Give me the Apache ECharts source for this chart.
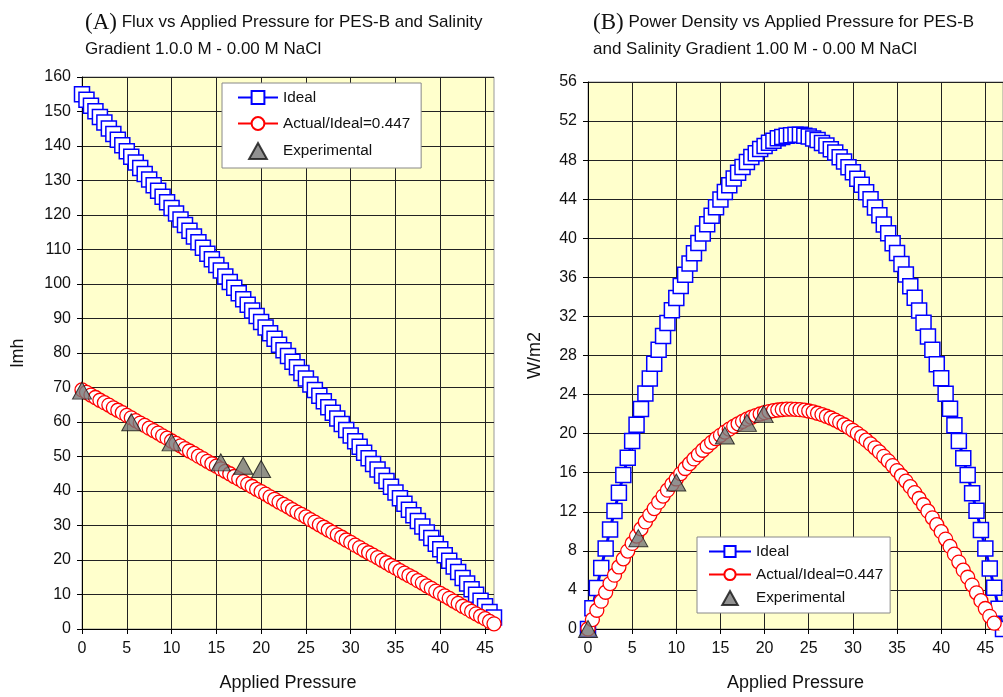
<!DOCTYPE html>
<html>
<head>
<meta charset="utf-8">
<script src="https://cdn.jsdelivr.net/npm/echarts@6/dist/echarts.min.js"></script>
<style>
html, body { margin: 0; padding: 0; background: #fff; }
#chart { width: 1003px; height: 697px; }
</style>
</head>
<body>
<div id="chart"></div>
<script>
// applied pressure (bar), 0.5 steps
var pressure = [0,0.5,1,1.5,2,2.5,3,3.5,4,4.5,5,5.5,6,6.5,7,7.5,8,8.5,9,9.5,
	10,10.5,11,11.5,12,12.5,13,13.5,14,14.5,15,15.5,16,16.5,17,17.5,18,18.5,19,19.5,
	20,20.5,21,21.5,22,22.5,23,23.5,24,24.5,25,25.5,26,26.5,27,27.5,28,28.5,29,29.5,
	30,30.5,31,31.5,32,32.5,33,33.5,34,34.5,35,35.5,36,36.5,37,37.5,38,38.5,39,39.5,
	40,40.5,41,41.5,42,42.5,43,43.5,44,44.5,45,45.5,46,46.5,47];

var idealFlux = [155.0,153.4,151.7,150.1,148.4,146.8,145.1,143.5,141.8,140.2,
	138.5,136.9,135.2,133.6,131.9,130.3,128.6,127.0,125.3,123.7,
	122.0,120.4,118.7,117.1,115.4,113.8,112.1,110.5,108.8,107.2,
	105.5,103.9,102.2,100.6,98.9,97.3,95.6,94.0,92.3,90.7,
	89.0,87.4,85.7,84.1,82.4,80.8,79.1,77.5,75.9,74.2,
	72.6,70.9,69.3,67.6,66.0,64.3,62.7,61.0,59.4,57.7,
	56.1,54.4,52.8,51.1,49.5,47.8,46.2,44.5,42.9,41.2,
	39.6,37.9,36.3,34.6,33.0,31.3,29.7,28.0,26.4,24.7,
	23.1,21.4,19.8,18.1,16.5,14.8,13.2,11.5,9.9,8.2,
	6.6,4.9,3.3,1.6,0.0];

var actualFlux = [69.3,68.6,67.8,67.1,66.3,65.6,64.9,64.1,63.4,62.7,
	61.9,61.2,60.4,59.7,59.0,58.2,57.5,56.8,56.0,55.3,
	54.5,53.8,53.1,52.3,51.6,50.9,50.1,49.4,48.6,47.9,
	47.2,46.4,45.7,45.0,44.2,43.5,42.7,42.0,41.3,40.5,
	39.8,39.1,38.3,37.6,36.8,36.1,35.4,34.6,33.9,33.2,
	32.5,31.7,31.0,30.2,29.5,28.7,28.0,27.3,26.6,25.8,
	25.1,24.3,23.6,22.8,22.1,21.4,20.7,19.9,19.2,18.4,
	17.7,16.9,16.2,15.5,14.8,14.0,13.3,12.5,11.8,11.0,
	10.3,9.6,8.9,8.1,7.4,6.6,5.9,5.1,4.4,3.7,
	3.0,2.2,1.5,0.7,0.0];

var idealPower = [0,2.13,4.21,6.25,8.24,10.19,12.09,13.95,15.76,17.53,
	19.24,20.92,22.53,24.12,25.65,27.15,28.58,29.99,31.33,32.64,
	33.89,35.12,36.27,37.41,38.47,39.51,40.48,41.44,42.31,43.18,
	43.96,44.73,45.42,46.11,46.70,47.30,47.80,48.31,48.71,49.13,
	49.44,49.77,49.99,50.23,50.36,50.50,50.54,50.59,50.60,50.50,
	50.42,50.22,50.05,49.76,49.50,49.12,48.77,48.29,47.85,47.28,
	46.75,46.09,45.47,44.71,44.00,43.15,42.35,41.41,40.52,39.48,
	38.50,37.37,36.30,35.08,33.92,32.60,31.35,29.94,28.60,27.10,
	25.67,24.08,22.55,20.87,19.25,17.47,15.77,13.90,12.10,10.14,
	8.25,6.19,4.22,2.07,0];

var actualPower = [0,0.97,1.92,2.85,3.76,4.65,5.51,6.35,7.18,7.98,
	8.76,9.51,10.25,10.96,11.66,12.33,12.98,13.61,14.21,14.80,
	15.36,15.91,16.43,16.93,17.41,17.86,18.30,18.71,19.11,19.48,
	19.83,20.16,20.46,20.75,21.01,21.25,21.48,21.68,21.85,22.01,
	22.15,22.26,22.35,22.42,22.47,22.50,22.51,22.49,22.45,22.40,
	22.32,22.22,22.09,21.95,21.78,21.60,21.39,21.16,20.91,20.64,
	20.34,20.03,19.69,19.33,18.95,18.55,18.13,17.68,17.22,16.73,
	16.22,15.69,15.14,14.57,13.97,13.36,12.72,12.06,11.38,10.68,
	9.96,9.21,8.45,7.66,6.85,6.02,5.30,4.50,3.70,2.90,
	2.10,1.30,0.60,-0.30];

var expPressureA = [0, 5.5, 10, 15.5, 18, 20];
var expFlux = [69.1, 59.9, 54.1, 48.3, 47.3, 46.4];
var expPressureB = [0, 5.7, 10, 15.5, 18, 19.9];
var expPower = [0, 9.3, 15.0, 19.8, 21.1, 22.0];

var xTicks = [0, 5, 10, 15, 20, 25, 30, 35, 40, 45];

function pair(xs, ys) {
	return ys.map(function (y, i) { return [xs[i], y]; });
}

var font = '"Liberation Sans", Arial, Helvetica, sans-serif';
var txt = '#111';
var triIcon = 'path://M10,0 L20,18 L0,18 Z';

function xAxisOf(idx, max) {
	return {
		type: 'value', gridIndex: idx, min: 0, max: max,
		name: 'Applied Pressure', nameLocation: 'middle', nameGap: 45,
		nameTextStyle: { fontFamily: font, fontSize: 18, color: txt },
		axisLine: { lineStyle: { color: '#000', width: 1 } },
		axisTick: { show: true, length: 5, customValues: xTicks, lineStyle: { color: '#000' } },
		axisLabel: { customValues: xTicks, fontFamily: font, fontSize: 16, color: txt, margin: 12 },
		splitLine: { show: true, lineStyle: { color: '#222', width: 1 } }
	};
}
function yAxisOf(idx, max, step, name, gap) {
	return {
		type: 'value', gridIndex: idx, min: 0, max: max, interval: step,
		name: name, nameLocation: 'middle', nameGap: gap,
		nameTextStyle: { fontFamily: font, fontSize: 18, color: txt },
		axisLine: { show: true, lineStyle: { color: '#000', width: 1 } },
		axisTick: { show: true, length: 5, lineStyle: { color: '#000' } },
		axisLabel: { fontFamily: font, fontSize: 16, color: txt, margin: 11 },
		splitLine: { show: true, lineStyle: { color: '#222', width: 1 } }
	};
}
function legendOf(left, top, ih, gap, pad, iw) {
	return {
		orient: 'vertical', left: left, top: top,
		data: ['Ideal', 'Actual/Ideal=0.447', { name: 'Experimental', icon: triIcon }],
		itemWidth: iw, itemHeight: ih, itemGap: gap, padding: pad,
		symbolKeepAspect: true,
		backgroundColor: '#fff', borderColor: '#888', borderWidth: 1,
		selectedMode: false,
		textStyle: { fontFamily: font, fontSize: 15.3, color: txt }
	};
}
function idealSeries(idx, ys) {
	return {
		name: 'Ideal', type: 'line', xAxisIndex: idx, yAxisIndex: idx,
		data: pair(pressure, ys), symbol: 'rect', symbolSize: 15,
		itemStyle: { color: '#fff', borderColor: '#0000ff', borderWidth: 1.5 },
		lineStyle: { color: '#0000ff', width: 3 }, z: 2
	};
}
function actualSeries(idx, ys) {
	return {
		name: 'Actual/Ideal=0.447', type: 'line', xAxisIndex: idx, yAxisIndex: idx,
		data: pair(pressure, ys), symbol: 'circle', symbolSize: 14,
		itemStyle: { color: '#fff', borderColor: '#ff0000', borderWidth: 1.3 },
		lineStyle: { color: '#ff0000', width: 3 }, z: 3
	};
}
function expSeries(idx, xs, ys) {
	return {
		name: 'Experimental', type: 'scatter', xAxisIndex: idx, yAxisIndex: idx,
		data: pair(xs, ys), symbol: 'triangle', symbolSize: [19, 17],
		itemStyle: { color: '#767676', borderColor: '#111', borderWidth: 1 }, z: 4
	};
}

var chart = echarts.init(document.getElementById('chart'));
var option = {
	animation: false,
	backgroundColor: '#fff',
	textStyle: { fontFamily: font },
	title: [
		{
			left: 80, top: 4,
			text: '{p|(A)} Flux vs Applied Pressure for PES-B and Salinity\nGradient 1.0.0 M - 0.00 M NaCl',
			textStyle: { fontFamily: font, fontSize: 17, fontWeight: 'normal', color: txt, lineHeight: 27,
				rich: { p: { fontFamily: '"Liberation Serif", "DejaVu Serif", serif', fontSize: 23, color: txt, lineHeight: 27 } } }
		},
		{
			left: 588, top: 4,
			text: '{p|(B)} Power Density vs Applied Pressure for PES-B\nand Salinity Gradient 1.00 M - 0.00 M NaCl',
			textStyle: { fontFamily: font, fontSize: 17, fontWeight: 'normal', color: txt, lineHeight: 27,
				rich: { p: { fontFamily: '"Liberation Serif", "DejaVu Serif", serif', fontSize: 23, color: txt, lineHeight: 27 } } }
		}
	],
	legend: [
		legendOf(222, 83, 16, 11, [7, 11, 8, 15], 40),
		legendOf(697, 537, 14, 8, [7, 7, 7, 11], 42)
	],
	grid: [
		{ left: 82, top: 77, width: 412, height: 553, show: true, backgroundColor: '#ffffcc', borderColor: '#999', borderWidth: 1 },
		{ left: 588, top: 82, width: 416, height: 551, show: true, backgroundColor: '#ffffcc', borderColor: '#999', borderWidth: 1 }
	],
	xAxis: [xAxisOf(0, 46), xAxisOf(1, 47)],
	yAxis: [yAxisOf(0, 160, 10, 'lmh', 55), yAxisOf(1, 56, 4, 'W/m2', 44)],
	series: [
		idealSeries(0, idealFlux),
		actualSeries(0, actualFlux),
		expSeries(0, expPressureA, expFlux),
		idealSeries(1, idealPower),
		actualSeries(1, actualPower),
		expSeries(1, expPressureB, expPower)
	]
};
chart.setOption(option);
</script>
</body>
</html>
